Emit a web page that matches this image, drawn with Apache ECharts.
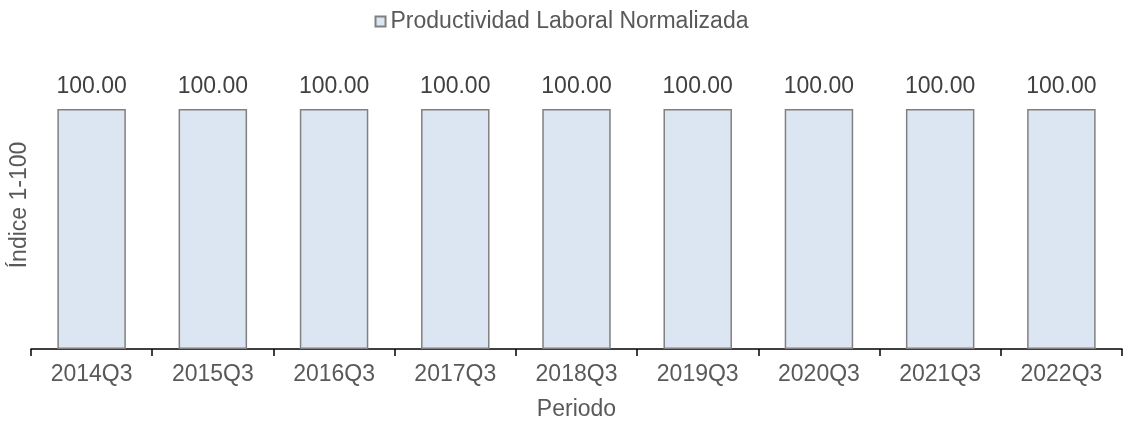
<!DOCTYPE html>
<html>
<head>
<meta charset="utf-8">
<script src="https://cdn.jsdelivr.net/npm/echarts@6/dist/echarts.min.js"></script>
<style>
  html, body { margin: 0; padding: 0; background: #fff; }
  #chart { width: 1123px; height: 424px; }
</style>
</head>
<body>
<div id="chart"></div>
<script>
var periods = ['2014Q3', '2015Q3', '2016Q3', '2017Q3', '2018Q3', '2019Q3', '2020Q3', '2021Q3', '2022Q3']
var productividad = [100, 100, 100, 100, 100, 100, 100, 100, 100]

var chart = echarts.init(document.getElementById('chart'))
var font = "'Liberation Sans', Arial, sans-serif"

chart.setOption({
  animation: false,
  textStyle: { fontFamily: font },
  legend: {
    top: 5,
    left: 'center',
    icon: 'rect',
    itemWidth: 10,
    itemHeight: 10,
    itemGap: 10,
    textStyle: { fontSize: 23, color: '#595959', fontFamily: font },
    data: ['Productividad Laboral Normalizada']
  },
  grid: {
    left: 31,
    right: 1,
    top: 61,
    bottom: 75,
    containLabel: false,
    outerBoundsMode: 'none'
  },
  xAxis: {
    type: 'category',
    data: periods,
    name: 'Periodo',
    nameLocation: 'middle',
    nameGap: 49,
    nameTextStyle: { fontSize: 23, color: '#595959' },
    axisLine: { lineStyle: { color: '#000', width: 1.5 } },
    axisTick: { show: true, length: 7, lineStyle: { color: '#000', width: 1.5 } },
    axisLabel: { fontSize: 23, color: '#595959', margin: 14 },
    splitLine: { show: false }
  },
  yAxis: {
    type: 'value',
    min: 0,
    max: 120,
    name: 'Índice 1-100',
    nameLocation: 'middle',
    nameGap: 0,
    nameRotate: 90,
    nameTextStyle: { fontSize: 23, color: '#595959' },
    axisLine: { show: false },
    axisTick: { show: false },
    axisLabel: { show: false },
    splitLine: { show: false }
  },
  series: [
    {
      name: 'Productividad Laboral Normalizada',
      type: 'bar',
      data: productividad,
      barWidth: '56.5%',
      itemStyle: {
        color: '#dce6f2',
        borderColor: '#808080',
        borderWidth: 1.5
      },
      label: {
        show: true,
        position: 'top',
        distance: 11,
        fontSize: 23,
        color: '#404040',
        formatter: function (p) {
          return p.value.toFixed(2)
        }
      }
    }
  ]
})
</script>
</body>
</html>
